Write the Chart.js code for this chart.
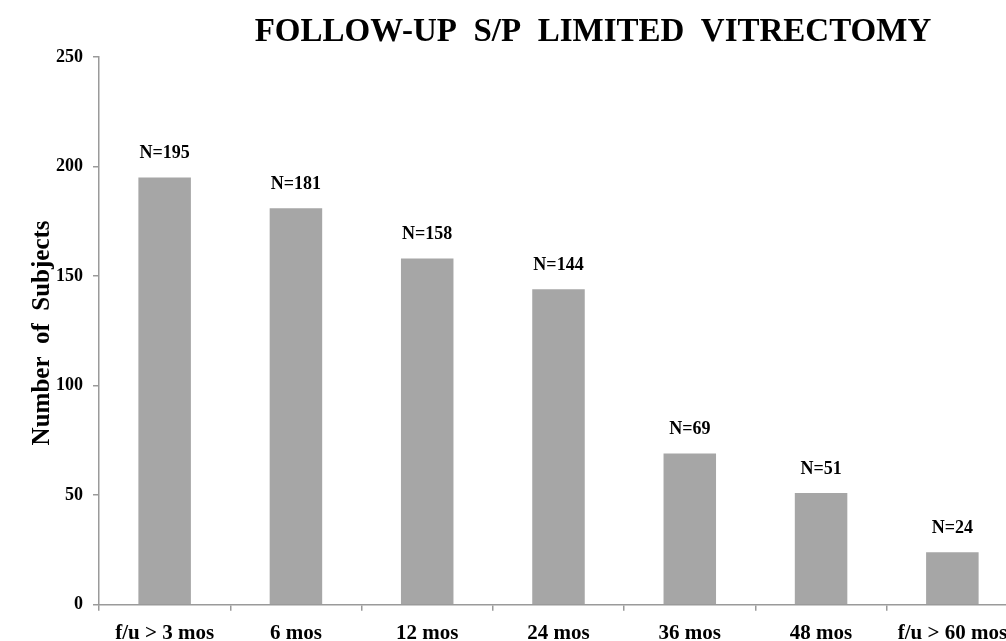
<!DOCTYPE html>
<html lang="en">
<head>
<meta charset="UTF-8">
<title>Follow-up s/p limited vitrectomy</title>
<script src="https://cdn.jsdelivr.net/npm/chart.js"></script>
<style>
    html, body { margin: 0; padding: 0; background: #fff; overflow: hidden; }
    .wrap { position: relative; width: 1018px; height: 656px; }
</style>
</head>
<body>
<div class="wrap"><canvas id="fuChart"></canvas></div>
<script>
    // data
    const categories = ['f/u > 3 mos', '6 mos', '12 mos', '24 mos', '36 mos', '48 mos', 'f/u > 60 mos'];
    const subjects = [195, 181, 158, 144, 69, 51, 24];
    const yTicks = [0, 50, 100, 150, 200, 250];

    const serif = '"Liberation Serif", "DejaVu Serif", serif';
    const axisGray = '#9a9a9a';

    // N=xx labels above bars, the title and the y axis title
    const extras = {
        id: 'extras',
        afterDatasetsDraw(chart) {
            const ctx = chart.ctx;
            const meta = chart.getDatasetMeta(0);
            const area = chart.chartArea;
            ctx.save();
            ctx.fillStyle = '#000';
            ctx.font = 'bold 18px ' + serif;
            ctx.textAlign = 'center';
            ctx.textBaseline = 'middle';
            meta.data.forEach((bar, i) => {
                ctx.fillText('N=' + subjects[i], bar.x, bar.y - 24);
            });
            ctx.font = 'bold 33px ' + serif;
            ctx.fillText('FOLLOW-UP  S/P  LIMITED  VITRECTOMY', area.left + (area.right - area.left) * 0.5375, 32);

            ctx.translate(43, (area.top + area.bottom) / 2 + 2);
            ctx.rotate(-Math.PI / 2);
            ctx.font = 'bold 25px ' + serif;
            ctx.fillText('Number  of  Subjects', 0, 0);
            ctx.restore();
        }
    };

    new Chart(document.getElementById('fuChart'), {
        type: 'bar',
        data: {
            labels: categories,
            datasets: [{
                data: subjects,
                backgroundColor: '#a6a6a6',
                borderWidth: 0,
                barPercentage: 0.4,
                categoryPercentage: 1.0
            }]
        },
        options: {
            responsive: true,
            maintainAspectRatio: false,
            animation: false,
            layout: { padding: { top: 57, right: 0, left: 46, bottom: 0 } },
            plugins: {
                legend: { display: false },
                tooltip: { enabled: false }
            },
            scales: {
                x: {
                    border: { color: axisGray, width: 1.5 },
                    grid: { offset: true, drawOnChartArea: false, color: axisGray, tickLength: 6, lineWidth: 1.5 },
                    ticks: { color: '#000', font: { family: serif, size: 21, weight: 'bold' }, padding: 10, maxRotation: 0 }
                },
                y: {
                    min: 0,
                    max: 250,
                    afterBuildTicks(axis) { axis.ticks = yTicks.map(v => ({ value: v })); },
                    border: { color: axisGray, width: 1.5 },
                    grid: { drawOnChartArea: false, color: axisGray, tickLength: 6, lineWidth: 1.5 },
                    ticks: { color: '#000', font: { family: serif, size: 18, weight: 'bold' }, padding: 10 }
                }
            }
        },
        plugins: [extras]
    });
</script>
</body>
</html>
